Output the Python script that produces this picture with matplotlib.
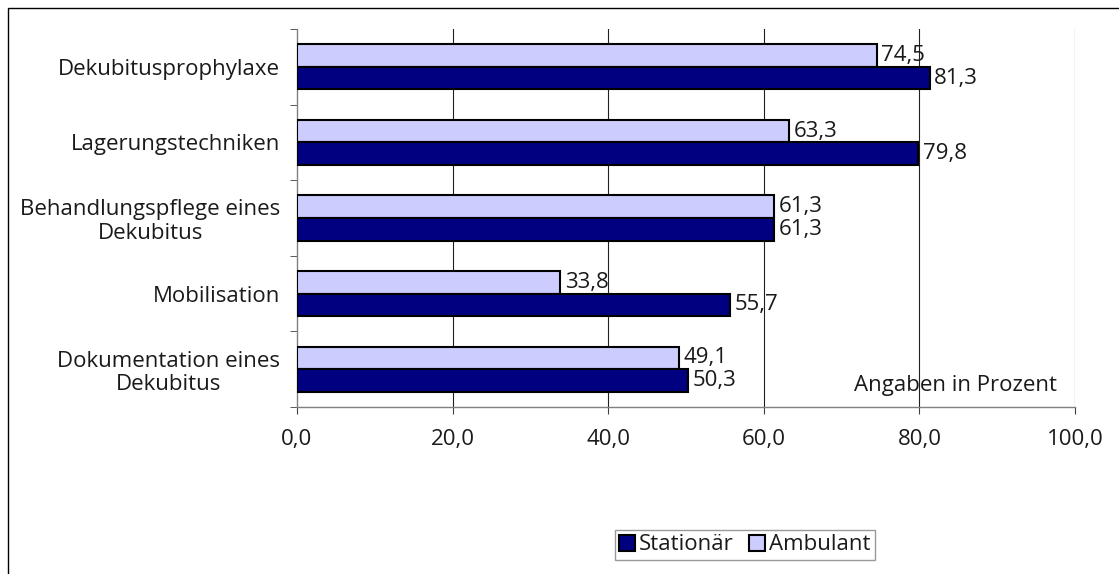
import matplotlib
matplotlib.use("Agg")
import matplotlib.pyplot as plt
from matplotlib.patches import Rectangle
import numpy as np

categories = ["Dekubitusprophylaxe", "Lagerungstechniken", "Behandlungspflege eines\nDekubitus",
              "Mobilisation", "Dokumentation eines\nDekubitus"]
stationaer = [81.3, 79.8, 61.3, 55.7, 50.3]
ambulant = [74.5, 63.3, 61.3, 33.8, 49.1]
xticks = [0, 20, 40, 60, 80, 100]
xticklabels = ["0,0", "20,0", "40,0", "60,0", "80,0", "100,0"]

plt.rcParams['font.family'] = ['Open Sans', 'DejaVu Sans']
fs = 16
tc = "#1a1a1a"

fig = plt.figure(figsize=(11.19, 5.74), dpi=100)
ax = fig.add_axes([297/1119, 1-407/574, (1075-297)/1119, (407-29)/574])

n = len(categories)
y = np.arange(n)
h = 0.30
ax.barh(y - h/2, ambulant, height=h, color="#CCCCFF", edgecolor="black", linewidth=1.5, label="Ambulant", zorder=3)
ax.barh(y + h/2, stationaer, height=h, color="#000080", edgecolor="black", linewidth=1.5, label="Stationär", zorder=3)

for yi, a, s in zip(y, ambulant, stationaer):
    ax.text(a + 0.6, yi - h/2, f"{a:.1f}".replace(".", ","), va="center", ha="left", fontsize=fs, color=tc)
    ax.text(s + 0.6, yi + h/2, f"{s:.1f}".replace(".", ","), va="center", ha="left", fontsize=fs, color=tc)

ax.set_xlim(0, 100)
ax.set_ylim(n - 0.5, -0.5)
ax.set_xticks(xticks)
ax.set_xticklabels(xticklabels, fontsize=fs, color=tc)
ax.set_yticks(y)
ax.set_yticklabels(categories, fontsize=fs, ha="right", multialignment="center", linespacing=1.15, color=tc)
ax.tick_params(axis="y", length=0, pad=12)
ax.set_yticks(np.arange(-0.5, n, 1), minor=True)
ax.tick_params(axis="y", which="minor", length=5, direction="out", color="#404040")
ax.tick_params(axis="x", length=5, direction="out", pad=11, color="#404040")

for x in xticks[1:]:
    ax.axvline(x, color="#202020", linewidth=0.8, zorder=1)

for side in ["top", "right"]:
    ax.spines[side].set_visible(False)
ax.spines["left"].set_color("#808080")
ax.spines["bottom"].set_color("#808080")
ax.spines["left"].set_linewidth(1.0)
ax.spines["bottom"].set_linewidth(1.0)

ax.text(0.977, 0.056, "Angaben in Prozent", transform=ax.transAxes, ha="right", va="center", fontsize=fs, color=tc)

handles, labels = ax.get_legend_handles_labels()
leg = fig.legend(handles[::-1], labels[::-1], loc="center", bbox_to_anchor=(745/1119, 1-545/574),
                 ncol=2, fontsize=fs, frameon=True, fancybox=False, edgecolor="#808080",
                 handlelength=0.7, handleheight=0.7, handletextpad=0.2, columnspacing=0.7,
                 borderpad=0.2, borderaxespad=0)
leg.get_frame().set_linewidth(1.0)
for t in leg.get_texts():
    t.set_color(tc)

fig.patches.append(Rectangle((8/1119, -0.1), 1.2, 1 - 8/574 + 0.1, transform=fig.transFigure,
                             fill=False, edgecolor="black", linewidth=1.0))

fig.savefig("out.png", dpi=100)
